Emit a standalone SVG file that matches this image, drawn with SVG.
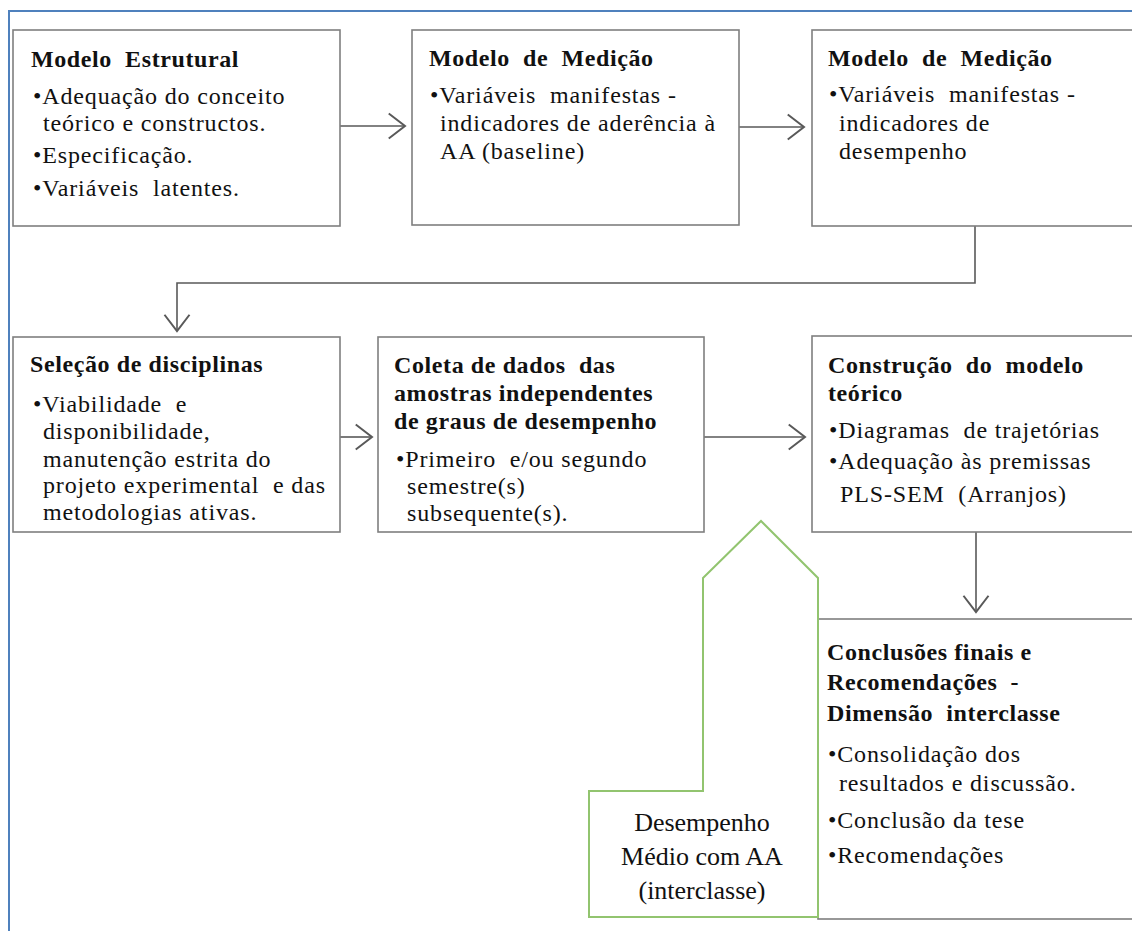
<svg xmlns="http://www.w3.org/2000/svg" width="1132" height="931" viewBox="0 0 1132 931" xml:space="preserve">
<style>
.box{fill:#fff;stroke:#7f7f7f;stroke-width:1.6}
.t{font-family:"Liberation Serif","Times New Roman",serif;font-size:24px;fill:#111;letter-spacing:0.85px;white-space:pre}
.h{font-family:"Liberation Serif","Times New Roman",serif;font-size:24px;font-weight:bold;fill:#111;letter-spacing:0.6px;white-space:pre}
.g{font-family:"Liberation Serif","Times New Roman",serif;font-size:26px;fill:#111;text-anchor:middle}
.c{fill:none;stroke:#595959;stroke-width:1.6}
</style>
<defs>
<marker id="arr" markerUnits="userSpaceOnUse" markerWidth="30" markerHeight="30" viewBox="-15 -12 17 24" refX="0" refY="0" orient="auto">
<path d="M-13,-10 L0,0 L-13,10" fill="none" stroke="#595959" stroke-width="1.6"/>
</marker>
</defs>
<rect width="1132" height="931" fill="#fff"/>
<rect x="9" y="11" width="1140" height="940" fill="none" stroke="#4f81bd" stroke-width="2"/>
<g id="connectors">
<line class="c" x1="340" y1="126" x2="405" y2="126" marker-end="url(#arr)"/>
<line class="c" x1="739" y1="127" x2="804" y2="127" marker-end="url(#arr)"/>
<polyline class="c" points="975,226 975,283 177,283 177,331" marker-end="url(#arr)"/>
<line class="c" x1="340" y1="437" x2="372" y2="437" marker-end="url(#arr)"/>
<line class="c" x1="704" y1="437" x2="805" y2="437" marker-end="url(#arr)"/>
<line class="c" x1="976" y1="532" x2="976" y2="612" marker-end="url(#arr)"/>
</g>
<g id="node1">
<rect class="box" x="13" y="30" width="327" height="196"/>
<text class="h" x="31" y="67">Modelo  Estrutural</text>
<text class="t" x="33" y="104">•Adequação do conceito</text>
<text class="t" x="43" y="131">teórico e constructos.</text>
<text class="t" x="33" y="163">•Especificação.</text>
<text class="t" x="33" y="196">•Variáveis  latentes.</text>
</g>
<g id="node2">
<rect class="box" x="412" y="30" width="327" height="195"/>
<text class="h" x="429" y="66">Modelo  de  Medição</text>
<text class="t" x="430" y="103">•Variáveis  manifestas -</text>
<text class="t" x="440" y="131">indicadores de aderência à</text>
<text class="t" x="440" y="159">AA (baseline)</text>
</g>
<g id="node3">
<rect class="box" x="812" y="30" width="340" height="196"/>
<text class="h" x="828" y="66">Modelo  de  Medição</text>
<text class="t" x="829" y="102">•Variáveis  manifestas -</text>
<text class="t" x="839" y="131">indicadores de</text>
<text class="t" x="839" y="159">desempenho</text>
</g>
<g id="node4">
<rect class="box" x="13" y="337" width="327" height="195"/>
<text class="h" x="30" y="372">Seleção de disciplinas</text>
<text class="t" x="33" y="412">•Viabilidade  e</text>
<text class="t" x="43" y="439">disponibilidade,</text>
<text class="t" x="43" y="467">manutenção estrita do</text>
<text class="t" x="43" y="493">projeto experimental  e das</text>
<text class="t" x="43" y="520">metodologias ativas.</text>
</g>
<g id="node5">
<rect class="box" x="378" y="337" width="326" height="195"/>
<text class="h" x="394" y="373">Coleta de dados  das</text>
<text class="h" x="394" y="401">amostras independentes</text>
<text class="h" x="394" y="429">de graus de desempenho</text>
<text class="t" x="396" y="467">•Primeiro  e/ou segundo</text>
<text class="t" x="407" y="494">semestre(s)</text>
<text class="t" x="407" y="521">subsequente(s).</text>
</g>
<g id="node6">
<rect class="box" x="812" y="336" width="340" height="196"/>
<text class="h" x="828" y="373">Construção  do  modelo</text>
<text class="h" x="828" y="401">teórico</text>
<text class="t" x="829" y="438">•Diagramas  de trajetórias</text>
<text class="t" x="829" y="469">•Adequação às premissas</text>
<text class="t" x="840" y="502">PLS-SEM  (Arranjos)</text>
</g>
<g id="node7">
<rect class="box" x="818" y="619" width="340" height="300"/>
<text class="h" x="827" y="660">Conclusões finais e</text>
<text class="h" x="827" y="690">Recomendações  -</text>
<text class="h" x="827" y="721">Dimensão  interclasse</text>
<text class="t" x="828" y="762">•Consolidação dos</text>
<text class="t" x="839" y="791">resultados e discussão.</text>
<text class="t" x="828" y="828">•Conclusão da tese</text>
<text class="t" x="828" y="863">•Recomendações</text>
</g>
<g id="node8">
<polygon points="703,578 761,521 818,578 818,917 589,917 589,791 703,791" fill="none" stroke="#92c46f" stroke-width="2"/>
<text class="g" x="702" y="831">Desempenho</text>
<text class="g" x="702" y="865">Médio com AA</text>
<text class="g" x="702" y="899">(interclasse)</text>
</g>
</svg>
